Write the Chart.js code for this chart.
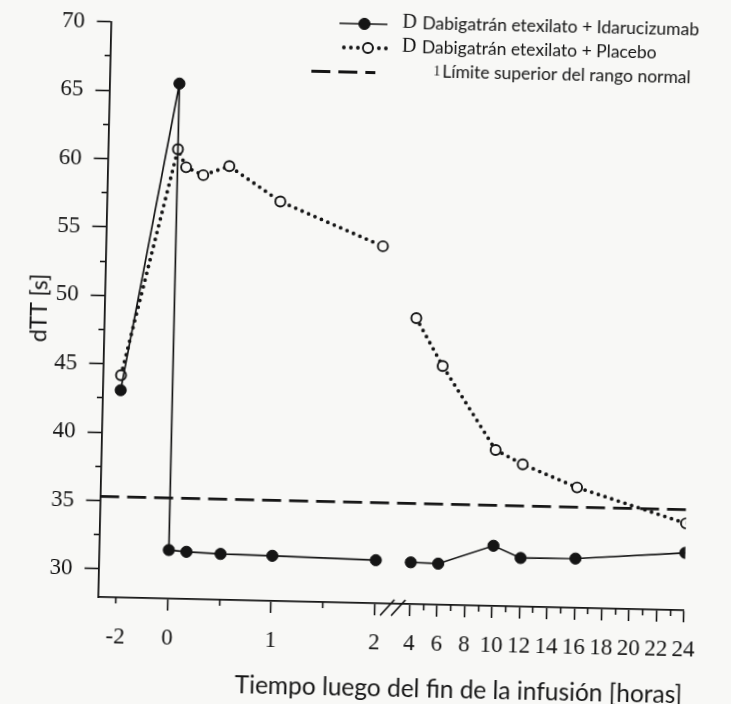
<!DOCTYPE html>
<html lang="es">
<head>
<meta charset="utf-8">
<title>dTT tras la infusión</title>
<script src="https://cdn.jsdelivr.net/npm/chart.js@4.4.1/dist/chart.umd.min.js"></script>
<style>
  html, body { margin: 0; padding: 0; background: #f8f8f6; overflow: hidden; }
  /* the printed figure sits slightly skewed on the scanned page */
  #wrap { width: 731px; height: 704px; transform: rotate(1.3deg); }
</style>
</head>
<body>
<div id="wrap"><canvas id="chart" width="731" height="704"></canvas></div>
<script>
'use strict';

// ──────────────────────────────────────────────────────────────
//  Data (hours after end of infusion, dTT in seconds)
// ──────────────────────────────────────────────────────────────
const idaruHours  = [-2, 0, 0, 0.17, 0.5, 1, 2, 4, 6, 10, 12, 16, 24];
const idaruValues = [43.1, 65.6, 31.5, 31.4, 31.3, 31.25, 31.1, 31.0, 30.95, 32.35, 31.5, 31.55, 32.15];

const placeboHours  = [-2, 0, 0.083, 0.25, 0.5, 1, 2, 4, 6, 10, 12, 16, 24];
const placeboValues = [44.2, 60.8, 59.5, 58.95, 59.65, 57.15, 54.05, 48.85, 45.4, 39.35, 38.35, 36.75, 34.3];

const limitHours  = [-2.7, 24];
const limitValues = [35.3, 35.3];

const xMajorHours  = [-2, 0, 1, 2, 4, 6, 8, 10, 12, 14, 16, 18, 20, 22, 24];
const xMajorLabels = ['-2', '0', '1', '2', '4', '6', '8', '10', '12', '14', '16', '18', '20', '22', '24'];
const xMinorHours  = [-2, 0.5, 1.5, 5, 7, 9, 11, 13, 15, 17, 19, 21, 23];

const yMajorTicks  = [30, 35, 40, 45, 50, 55, 60, 65, 70];
const yMinorTicks  = [32.5, 37.5, 42.5, 47.5, 52.5, 57.5, 62.5, 67.5];

const seriesLabels = [
  'Dabigatrán etexilato + Idarucizumab',
  'Dabigatrán etexilato + Placebo',
  'Límite superior del rango normal',
];
const seriesPrefixes = ['D', 'D', '1'];

// ──────────────────────────────────────────────────────────────
//  Broken time axis: pre-dose squeezed, 0–2 h wide, 4–24 h narrow
// ──────────────────────────────────────────────────────────────
const BREAK_GAP  = 0.338;
const LATE_SCALE = 0.1324;

function hourToPos(h) {
  if (h < 0) return h / 4;
  if (h <= 2) return h;
  return 2 + BREAK_GAP + (h - 4) * LATE_SCALE;
}

const X_MIN = hourToPos(limitHours[0]);
const X_MAX = hourToPos(24);
const Y_MIN = 27.95;
const Y_MAX = 70;

const toPoints = (hours, values) => hours.map((h, i) => ({ x: hourToPos(h), y: values[i] }));

// no line drawn across the axis break
const acrossBreak = ctx => ctx.p0.parsed.x <= hourToPos(2) && ctx.p1.parsed.x >= hourToPos(4);

// ──────────────────────────────────────────────────────────────
//  Styling
// ──────────────────────────────────────────────────────────────
const INK   = '#151515';
const PAPER = '#f8f8f6';
const SANS  = "Lato, 'Open Sans', sans-serif";
const SERIF = "'Liberation Serif', 'Times New Roman', serif";
const TICK_FONT = { family: SERIF, size: 23 };

// legend block (top right, inside the plot)
const KEY_ROWS = [
  { ds: 0, y: 24,   x0: 332, x1: 380, px: 357, prefixX: 395, prefixSize: 20, textX: 415, textY: 22 },
  { ds: 1, y: 48,   x0: 337, x1: 382, px: 361, prefixX: 395, prefixSize: 20, textX: 415, textY: 46 },
  { ds: 2, y: 72.5, x0: 305, x1: 369, px: null, prefixX: 427, prefixSize: 14, textX: 436, textY: 70.5 },
];

const keyPlugin = {
  id: 'key',
  afterDraw(chart) {
    const { ctx } = chart;
    KEY_ROWS.forEach(row => {
      const ds = chart.data.datasets[row.ds];
      ctx.save();
      ctx.strokeStyle = ds.borderColor;
      ctx.lineWidth = ds.borderWidth;
      ctx.lineCap = ds.borderCapStyle || 'butt';
      ctx.setLineDash(ds.borderDash || []);
      ctx.beginPath();
      ctx.moveTo(row.x0, row.y);
      ctx.lineTo(row.x1, row.y);
      ctx.stroke();
      ctx.setLineDash([]);

      if (row.px !== null) {
        ctx.beginPath();
        ctx.arc(row.px, row.y, ds.pointRadius, 0, Math.PI * 2);
        ctx.fillStyle = ds.pointBackgroundColor;
        ctx.fill();
        ctx.lineWidth = ds.pointBorderWidth;
        ctx.strokeStyle = ds.pointBorderColor;
        ctx.stroke();
      }

      ctx.fillStyle = INK;
      ctx.textBaseline = 'middle';
      ctx.textAlign = 'left';
      ctx.font = `${row.prefixSize}px ${SERIF}`;
      ctx.fillText(seriesPrefixes[row.ds], row.prefixX, row.textY);
      ctx.font = `17.5px ${SANS}`;
      ctx.fillText(seriesLabels[row.ds], row.textX, row.textY);
      ctx.restore();
    });
  }
};

// the "//" marks on the x axis between 2 h and 4 h
const breakPlugin = {
  id: 'axisBreak',
  afterDraw(chart) {
    const { ctx, chartArea } = chart;
    const x = chart.scales.x;
    const mid = (x.getPixelForValue(hourToPos(2)) + x.getPixelForValue(hourToPos(4))) / 2;
    const base = chartArea.bottom;
    ctx.save();
    ctx.strokeStyle = INK;
    ctx.lineWidth = 1.7;
    [-5, 6].forEach(dx => {
      ctx.beginPath();
      ctx.moveTo(mid + dx - 7, base + 12);
      ctx.lineTo(mid + dx + 7, base - 4);
      ctx.stroke();
    });
    ctx.restore();
  }
};

// ──────────────────────────────────────────────────────────────
//  Chart
// ──────────────────────────────────────────────────────────────
new Chart(document.getElementById('chart'), {
  type: 'line',
  data: {
    datasets: [
      {
        label: seriesLabels[0],
        data: toPoints(idaruHours, idaruValues),
        borderColor: INK,
        borderWidth: 1.7,
        pointRadius: 5.6,
        pointBackgroundColor: INK,
        pointBorderColor: INK,
        pointBorderWidth: 1,
        segment: { borderColor: ctx => acrossBreak(ctx) ? 'transparent' : undefined },
      },
      {
        label: seriesLabels[1],
        data: toPoints(placeboHours, placeboValues),
        borderColor: INK,
        borderWidth: 3.8,
        borderDash: [0, 7],
        borderCapStyle: 'round',
        pointRadius: 5,
        pointBackgroundColor: PAPER,
        pointBorderColor: INK,
        pointBorderWidth: 1.9,
        segment: { borderColor: ctx => acrossBreak(ctx) ? 'transparent' : undefined },
      },
      {
        label: seriesLabels[2],
        data: toPoints(limitHours, limitValues),
        borderColor: INK,
        borderWidth: 2.8,
        borderDash: [19, 8],
        pointRadius: 0,
      },
    ],
  },
  options: {
    responsive: false,
    animation: false,
    layout: { padding: { top: 27.7, right: 41.2, bottom: 0, left: 0 } },
    plugins: {
      legend: { display: false },
      tooltip: { enabled: false },
    },
    scales: {
      x: {
        type: 'linear',
        position: 'bottom',
        min: X_MIN,
        max: X_MAX,
        afterBuildTicks: s => { s.ticks = xMajorHours.map(h => ({ value: hourToPos(h) })); },
        afterFit: s => { s.height = 101; },
        grid: {
          drawOnChartArea: false,
          tickLength: 12,
          tickWidth: 1.6,
          tickColor: ctx => (ctx.index === 0 ? 'transparent' : INK),
        },
        border: { color: INK, width: 1.8 },
        ticks: {
          autoSkip: false,
          maxRotation: 0,
          minRotation: 0,
          padding: 14,
          color: INK,
          font: TICK_FONT,
          callback: (v, i) => xMajorLabels[i],
        },
        title: {
          display: true,
          text: 'Tiempo luego del fin de la infusión [horas]',
          align: 'end',
          color: INK,
          font: { family: SANS, size: 24.5 },
          padding: { top: 0, bottom: 1.5 },
        },
      },
      xMinor: {
        type: 'linear',
        axis: 'x',
        position: { y: Y_MIN },
        min: X_MIN,
        max: X_MAX,
        afterBuildTicks: s => { s.ticks = xMinorHours.map(h => ({ value: hourToPos(h) })); },
        grid: { drawOnChartArea: false, tickLength: 6, tickWidth: 1.6, tickColor: INK },
        border: { display: false },
        ticks: { display: false },
      },
      y: {
        type: 'linear',
        position: 'left',
        min: Y_MIN,
        max: Y_MAX,
        afterBuildTicks: s => { s.ticks = yMajorTicks.map(v => ({ value: v })); },
        afterFit: s => { s.width = 103.5; },
        grid: { drawOnChartArea: false, tickLength: 14, tickWidth: 1.6, tickColor: INK },
        border: { color: INK, width: 1.8 },
        ticks: { padding: 12, color: INK, font: TICK_FONT, callback: v => String(v) },
        title: {
          display: true,
          text: 'dTT [s]',
          color: INK,
          font: { family: SANS, size: 23 },
          padding: { top: 25, bottom: 0 },
        },
      },
      yMinor: {
        type: 'linear',
        axis: 'y',
        position: { x: X_MIN },
        min: Y_MIN,
        max: Y_MAX,
        afterBuildTicks: s => { s.ticks = yMinorTicks.map(v => ({ value: v })); },
        grid: { drawOnChartArea: false, tickLength: 6, tickWidth: 1.6, tickColor: INK },
        border: { display: false },
        ticks: { display: false },
      },
    },
  },
  plugins: [keyPlugin, breakPlugin],
});
</script>
</body>
</html>
